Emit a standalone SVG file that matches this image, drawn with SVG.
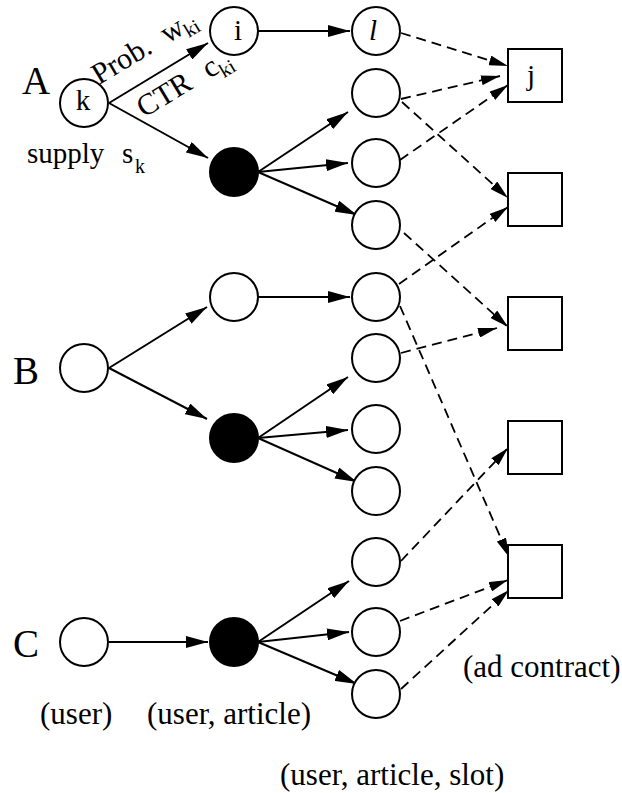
<svg xmlns="http://www.w3.org/2000/svg" width="622" height="793" viewBox="0 0 622 793">
<defs>
<marker id="ah" viewBox="0 0 22 12" refX="22" refY="6" markerWidth="22" markerHeight="12" markerUnits="userSpaceOnUse" orient="auto"><path d="M0,0 L22,6 L0,12 z" fill="#000" stroke="none"/></marker>
<marker id="ahd" viewBox="0 0 19 10" refX="19" refY="5" markerWidth="19" markerHeight="10" markerUnits="userSpaceOnUse" orient="auto"><path d="M0,0 L19,5 L0,10 z" fill="#000" stroke="none"/></marker>
</defs>
<style>
.n{fill:#fff;stroke:#000;stroke-width:2}
.f{fill:#000;stroke:#000;stroke-width:2}
.s{fill:#fff;stroke:#000;stroke-width:2}
.e{fill:none;stroke:#000;stroke-width:2;marker-end:url(#ah)}
.d{fill:none;stroke:#000;stroke-width:1.8;stroke-dasharray:10 6;marker-end:url(#ahd)}
text{font-family:"Liberation Serif","Times New Roman",serif;fill:#000}
.big{font-size:39px}
.lab{font-size:31px}
.nl{font-size:29px}
</style>
<rect width="622" height="793" fill="#fff"/>
<g id="connectors">
<path class="e" d="M109,103 L208,43"/>
<path class="e" d="M109,103 L208,158"/>
<path class="e" d="M258,31 L350,31"/>
<path class="e" d="M258,172 L348,112"/>
<path class="e" d="M258,172 L348,163"/>
<path class="e" d="M258,172 L357,215"/>
<path class="e" d="M109,368 L207,307"/>
<path class="e" d="M109,368 L207,419"/>
<path class="e" d="M258,297 L350,297"/>
<path class="e" d="M258,438 L348,377"/>
<path class="e" d="M258,438 L348,430"/>
<path class="e" d="M258,438 L357,482"/>
<path class="e" d="M109,642 L208,642"/>
<path class="e" d="M258,642 L349,581"/>
<path class="e" d="M258,642 L349,632"/>
<path class="e" d="M258,642 L357,684"/>
<path class="d" d="M401,33 L508,66"/>
<path class="d" d="M401,99 L500,76"/>
<path class="d" d="M400,160 L508,85"/>
<path class="d" d="M402,102 L508,198"/>
<path class="d" d="M404,233 L508,327"/>
<path class="d" d="M399,284 L508,207"/>
<path class="d" d="M400,306 L509,557"/>
<path class="d" d="M401,353 L497,328"/>
<path class="d" d="M401,561 L508,448"/>
<path class="d" d="M400,621 L508,580"/>
<path class="d" d="M401,689 L509,590"/>
</g>
<g id="labelA"><text class="big" x="22" y="94">A</text></g>
<g id="labelB"><text class="big" x="13" y="384">B</text></g>
<g id="labelC"><text class="big" x="13" y="657">C</text></g>
<g id="nodeK"><circle class="n" cx="84" cy="103" r="24"/><text class="nl" x="83" y="110" text-anchor="middle">k</text></g>
<g id="supply"><text class="nl" x="27" y="163">supply</text><text class="nl" x="122" y="163">s</text><text x="135" y="173" font-size="20">k</text></g>
<g id="probLabel"><text font-size="30" transform="translate(99,85) rotate(-31)"><tspan x="0" y="0">Prob.</tspan><tspan x="80" y="0">w</tspan><tspan x="101" y="6" font-size="20">ki</tspan></text></g>
<g id="ctrLabel"><text font-size="30" transform="translate(144,118) rotate(-31)"><tspan x="0" y="0">CTR</tspan><tspan x="76" y="0">c</tspan><tspan x="89" y="7" font-size="20">ki</tspan></text></g>
<g id="nodeI"><circle class="n" cx="234" cy="31" r="24"/><text class="nl" x="238" y="40" text-anchor="middle">i</text></g>
<g id="nodeAblack"><circle class="f" cx="234" cy="172" r="24"/></g>
<g id="nodeL"><circle class="n" cx="376" cy="31" r="24"/><text class="nl" x="373" y="40" text-anchor="middle" font-style="italic">l</text></g>
<g id="nodeA2"><circle class="n" cx="376" cy="93" r="24"/></g>
<g id="nodeA3"><circle class="n" cx="376" cy="163" r="24"/></g>
<g id="nodeA4"><circle class="n" cx="376" cy="225" r="24"/></g>
<g id="nodeB"><circle class="n" cx="84" cy="368" r="24"/></g>
<g id="nodeBtop"><circle class="n" cx="234" cy="297" r="24"/></g>
<g id="nodeBblack"><circle class="f" cx="234" cy="438" r="24"/></g>
<g id="nodeB1"><circle class="n" cx="376" cy="297" r="24"/></g>
<g id="nodeB2"><circle class="n" cx="376" cy="358" r="24"/></g>
<g id="nodeB3"><circle class="n" cx="376" cy="429" r="24"/></g>
<g id="nodeB4"><circle class="n" cx="376" cy="491" r="24"/></g>
<g id="nodeC"><circle class="n" cx="84" cy="642" r="24"/></g>
<g id="nodeCblack"><circle class="f" cx="234" cy="642" r="24"/></g>
<g id="nodeC1"><circle class="n" cx="376" cy="562" r="24"/></g>
<g id="nodeC2"><circle class="n" cx="376" cy="632" r="24"/></g>
<g id="nodeC3"><circle class="n" cx="376" cy="694" r="24"/></g>
<g id="adJ"><rect class="s" x="508" y="49" width="54" height="53"/><text class="nl" x="531" y="85" text-anchor="middle">j</text></g>
<g id="ad2"><rect class="s" x="508" y="173" width="54" height="53"/></g>
<g id="ad3"><rect class="s" x="508" y="297" width="54" height="53"/></g>
<g id="ad4"><rect class="s" x="508" y="421" width="54" height="53"/></g>
<g id="ad5"><rect class="s" x="508" y="545" width="54" height="53"/></g>
<g id="captions">
<text class="lab" x="40" y="724">(user)</text>
<text class="lab" x="147" y="724">(user, article)</text>
<text class="lab" x="280" y="785">(user, article, slot)</text>
<text class="lab" x="463" y="677">(ad contract)</text>
</g>
</svg>
